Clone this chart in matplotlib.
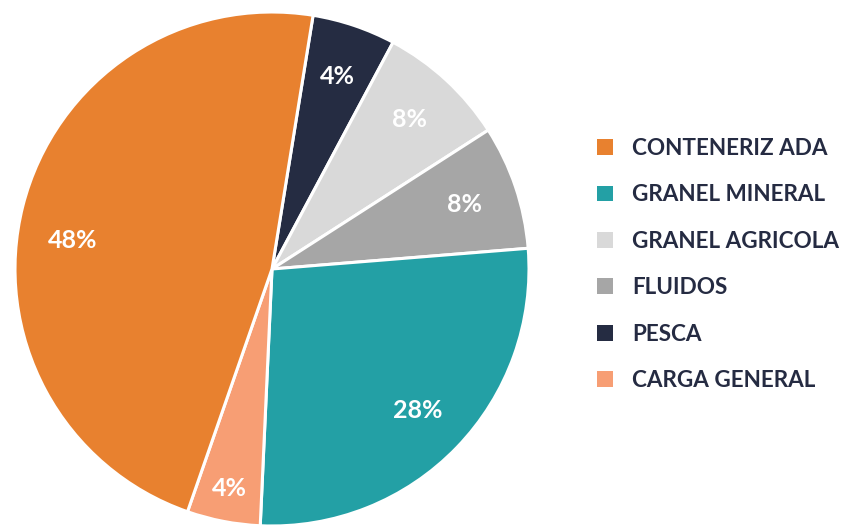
import math
import matplotlib
matplotlib.use("Agg")
import matplotlib.pyplot as plt
import matplotlib.patches as mpatches
from matplotlib import font_manager as fm

# Data (legend order)
categories = ["CONTENERIZ ADA", "GRANEL MINERAL", "GRANEL AGRICOLA", "FLUIDOS", "PESCA", "CARGA GENERAL"]
shares = [47.2, 27.0, 8.1, 7.8, 5.25, 4.6]
pct_labels = ["48%", "28%", "8%", "8%", "4%", "4%"]
colors = ["#E8812F", "#23A0A5", "#D9D9D9", "#A6A6A6", "#252C42", "#F79E74"]

# drawing order around the pie (clockwise from top)
pie_order = [4, 2, 3, 1, 5, 0]


def lato_bold_path():
    cands = [f for f in fm.fontManager.ttflist
             if f.name == "Lato" and f.style == "normal" and f.weight in (700, "bold")]
    for f in cands:
        if f.fname.endswith("Lato-Bold.ttf"):
            return f.fname
    return cands[0].fname if cands else None


bold_path = lato_bold_path()


def fprop(size):
    if bold_path:
        return fm.FontProperties(fname=bold_path, size=size)
    return fm.FontProperties(family="DejaVu Sans", weight="bold", size=size)


W, H = 857, 525
fig = plt.figure(figsize=(W / 100, H / 100), dpi=100)
fig.patch.set_facecolor("white")

cx, cy, R = 272, 269, 257
ax = fig.add_axes([(cx - R) / W, (H - cy - R) / H, 2 * R / W, 2 * R / H])

vals = [shares[i] for i in pie_order]
cols = [colors[i] for i in pie_order]
wedges, texts, autotexts = ax.pie(
    vals, colors=cols, startangle=80.8, counterclock=False,
    autopct="%d", pctdistance=0.79,
    wedgeprops=dict(edgecolor="white", linewidth=2.2),
)
adjust = {0: (0.99, 6.0), 5: (1.1, 0.0)}  # (radial scale, extra rotation deg)
for t, i in zip(autotexts, pie_order):
    t.set_text(pct_labels[i])
    t.set_color("white")
    t.set_fontproperties(fprop(18))
    if i in adjust:
        s, rot = adjust[i]
        x, y = t.get_position()
        a = math.radians(rot)
        x, y = x * math.cos(a) - y * math.sin(a), x * math.sin(a) + y * math.cos(a)
        t.set_position((x * s, y * s))
ax.set_xlim(-1, 1)
ax.set_ylim(-1, 1)
ax.set_aspect("equal")
ax.axis("off")

handles = [mpatches.Patch(facecolor=c, edgecolor="none") for c in colors]
fs = 16.2
leg = fig.legend(
    handles, categories, loc="center left",
    bbox_to_anchor=(597 / W, (H - 264.5) / H),
    frameon=False, borderpad=0, borderaxespad=0,
    handlelength=0.71, handleheight=0.71, handletextpad=0.84,
    labelspacing=1.13,
    prop=fprop(fs),
)
for t in leg.get_texts():
    t.set_color("#252B42")

fig.savefig("out.png", dpi=100, facecolor="white")
